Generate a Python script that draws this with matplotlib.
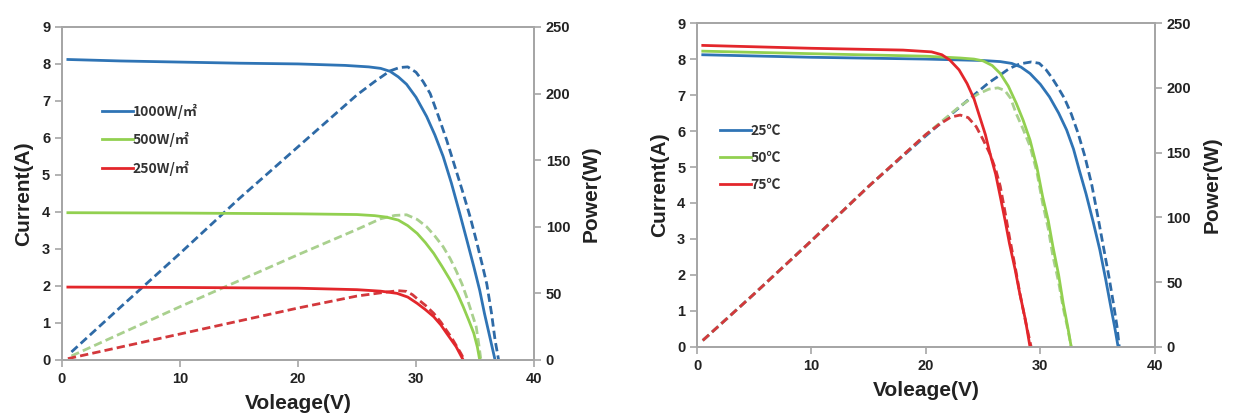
import matplotlib
matplotlib.use("Agg")
import matplotlib.pyplot as plt

# ---- irradiance chart (left) ----
v_1000 = [0.5, 5, 10, 15, 20, 24, 26, 27, 27.8, 28.5, 29.2, 30.0, 30.9, 31.6, 32.3, 33.0,
          33.7, 34.3, 34.9, 35.4, 35.8, 36.2, 36.7]
i_1000 = [8.12, 8.08, 8.05, 8.02, 8.0, 7.96, 7.92, 7.88, 7.8, 7.65, 7.45, 7.1, 6.58, 6.08, 5.5, 4.78,
          3.97, 3.25, 2.52, 1.88, 1.26, 0.7, 0.0]
pv_1000 = [0.8, 5, 10, 15, 20, 25, 26.5, 27.8, 28.6, 29.3, 30.0, 30.6, 31.2, 31.9, 32.6, 33.3,
           34.0, 34.6, 35.1, 35.6, 36.0, 36.4, 36.7, 37.0]
p_1000 = [6, 40, 80, 121, 160, 199, 209, 217, 219.5, 220, 216, 209, 200, 183, 165, 145,
          125, 107, 90, 72, 57, 35, 15, 0]

v_500 = [0.5, 10, 20, 25, 26.5, 27.5, 28.5, 29.3, 30.1, 30.8, 31.5, 32.2, 32.9, 33.5, 34.0,
         34.5, 34.9, 35.2, 35.4]
i_500 = [3.98, 3.97, 3.95, 3.93, 3.9, 3.86, 3.78, 3.63, 3.42, 3.17, 2.88, 2.53, 2.16, 1.8, 1.44,
         1.05, 0.72, 0.35, 0.0]
pv_500 = [0.8, 10, 20, 25, 27, 28.2, 29.2, 30.1, 30.9, 31.6, 32.3, 32.9, 33.4, 33.9, 34.3,
          34.7, 35.1, 35.3, 35.5]
p_500 = [3, 40, 79, 98, 106, 108.5, 109, 105.5, 100, 93, 85, 76, 67, 57, 47, 36, 25, 13, 0]

v_250 = [0.5, 10, 20, 25, 27, 28.4, 29.3, 30.1, 30.8, 31.5, 32.1, 32.6, 33.0, 33.4, 33.7, 34.0]
i_250 = [1.97, 1.96, 1.94, 1.9, 1.86, 1.8, 1.7, 1.53, 1.36, 1.17, 0.95, 0.72, 0.54, 0.36, 0.18, 0.0]
pv_250 = [0.5, 10, 20, 25, 27.5, 28.5, 29.2, 29.7, 30.1, 30.8, 31.5, 32.1, 32.6, 33.0, 33.4, 33.8, 34.1]
p_250 = [1, 19.5, 39, 48, 51, 52, 51.5, 49, 46, 41, 35, 28.5, 22, 17, 11, 5, 0]

# ---- temperature chart (right) ----
v_25 = [0.5, 10, 20, 25, 26.5, 27.5, 28.3, 29.1, 30.0, 30.8, 31.6, 32.3, 32.9, 33.4, 34.0,
        34.6, 35.2, 35.7, 36.2, 36.5, 36.8]
i_25 = [8.12, 8.05, 8.0, 7.96, 7.93, 7.88, 7.78, 7.6, 7.3, 6.95, 6.5, 6.03, 5.5, 4.92, 4.25,
        3.5, 2.7, 1.9, 1.05, 0.55, 0.0]
pv_25 = [0.5, 5, 10, 15, 20, 24, 25.5, 26.5, 27.3, 28.2, 29.2, 29.9, 30.5, 31.0, 31.5, 32.1,
         32.7, 33.3, 33.9, 34.5, 35.0, 35.5, 36.0, 36.4, 36.7, 36.9]
p_25 = [5, 41, 82, 124, 163, 193, 204, 210, 215, 218.5, 220, 219, 214, 208, 201, 192,
        180, 165, 147, 125, 102, 78, 54, 33, 16, 0]

v_50 = [0.5, 10, 20, 23, 24.2, 25.0, 25.8, 26.5, 27.2, 27.9, 28.5, 29.1, 29.7, 30.2, 30.7,
        31.1, 31.6, 32.0, 32.4, 32.7]
i_50 = [8.22, 8.15, 8.08, 8.03, 8.0, 7.95, 7.82, 7.6, 7.25, 6.77, 6.3, 5.75, 5.0, 4.18, 3.5,
        2.79, 2.0, 1.21, 0.55, 0.0]
pv_50 = [0.5, 5, 10, 15, 20, 23, 24.5, 25.5, 26.3, 26.9, 27.4, 27.9, 28.5, 29.1, 29.7, 30.2,
         30.7, 31.1, 31.6, 32.0, 32.4, 32.7]
p_50 = [5, 41, 82, 124, 164, 186, 195, 199, 200, 198, 192, 180, 168, 155, 135, 111,
        91, 70, 50, 30, 14, 0]

v_75 = [0.5, 10, 18, 20.5, 21.4, 22.1, 22.9, 23.6, 24.2, 24.7, 25.2, 25.6, 26.1, 26.5, 26.9,
        27.3, 27.8, 28.2, 28.7, 29.1]
i_75 = [8.38, 8.3, 8.25, 8.2, 8.12, 7.97, 7.7, 7.32, 6.9, 6.4, 5.9, 5.38, 4.8, 4.18, 3.55,
        2.88, 2.15, 1.49, 0.75, 0.0]
pv_75 = [0.5, 5, 10, 15, 20, 21.2, 22.2, 23.0, 23.7, 24.4, 25.0, 25.6, 26.1, 26.5, 26.9, 27.3,
         27.8, 28.2, 28.7, 29.2]
p_75 = [5, 41, 82, 124, 164, 172, 177.5, 179, 177, 170, 160, 149, 137, 124, 105, 85,
        62, 42, 20, 0]

blue = '#2f74b5'
green = '#92d050'
red = '#e3262b'
blue_d = '#2e6aa6'
green_d = '#a9d08e'
red_d = '#d3383c'

plt.rcParams['font.family'] = ['Liberation Sans', 'DejaVu Sans']

fig = plt.figure(figsize=(12.37, 4.2), dpi=100)
ax1 = fig.add_axes([0.0501, 0.1429, 0.3816, 0.793])
ax2 = fig.add_axes([0.5635, 0.174, 0.370, 0.771])


def style(ax, axp):
    ax.set_xlim(0, 40)
    ax.set_ylim(0, 9)
    axp.set_ylim(0, 250)
    ax.set_xticks(range(0, 41, 10))
    ax.set_yticks(range(0, 10))
    axp.set_yticks(range(0, 251, 50))
    for a in (ax, axp):
        for s in a.spines.values():
            s.set_color('#a6a6a6')
            s.set_linewidth(1.3)
        a.tick_params(colors='#a6a6a6', labelcolor='#222222', length=5, width=1.2,
                      labelsize=10.5)
        for lab in a.get_xticklabels() + a.get_yticklabels():
            lab.set_fontweight('bold')
    ax.set_xlabel('Voleage(V)', fontsize=15, fontweight='bold', color='#222222', labelpad=6)
    ax.set_ylabel('Current(A)', fontsize=15, fontweight='bold', color='#222222', labelpad=6)
    axp.set_ylabel('Power(W)', fontsize=15, fontweight='bold', color='#222222', labelpad=8)


dash = (3, 1.5)

# left chart
ax1p = ax1.twinx()
ax1.plot(v_1000, i_1000, color=blue, lw=2, label='1000W/㎡')
ax1.plot(v_500, i_500, color=green, lw=2, label='500W/㎡')
ax1.plot(v_250, i_250, color=red, lw=2, label='250W/㎡')
ax1p.plot(pv_1000, p_1000, color=blue_d, lw=2, dashes=dash)
ax1p.plot(pv_500, p_500, color=green_d, lw=2, dashes=dash)
ax1p.plot(pv_250, p_250, color=red_d, lw=2, dashes=dash)
style(ax1, ax1p)

# right chart
ax2p = ax2.twinx()
ax2.plot(v_25, i_25, color=blue, lw=2, label='25℃')
ax2.plot(v_50, i_50, color=green, lw=2, label='50℃')
ax2.plot(v_75, i_75, color=red, lw=2, label='75℃')
ax2p.plot(pv_25, p_25, color=blue_d, lw=2, dashes=dash)
ax2p.plot(pv_50, p_50, color=green_d, lw=2, dashes=dash)
ax2p.plot(pv_75, p_75, color=red_d, lw=2, dashes=dash)
style(ax2, ax2p)

leg_font = {'family': ['Noto Sans CJK SC', 'DejaVu Sans'], 'size': 10, 'weight': 'bold'}
for ax, anchor in ((ax1, (0.07, 0.79)), (ax2, (0.035, 0.71))):
    leg = ax.legend(loc='upper left', bbox_to_anchor=anchor, frameon=False,
                    prop=leg_font, handlelength=2.2, handletextpad=0.0,
                    labelspacing=0.95, borderpad=0)
    for t in leg.get_texts():
        t.set_color('#333333')

# keep current axes (and legends) above the power axes
for ax, axp in ((ax1, ax1p), (ax2, ax2p)):
    ax.set_zorder(axp.get_zorder() + 1)
    ax.patch.set_visible(False)

fig.savefig('out.png', dpi=100)
